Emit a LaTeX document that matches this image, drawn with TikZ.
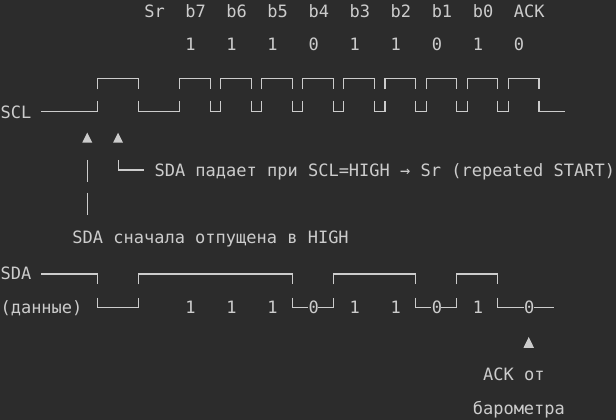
\documentclass[tikz,border=0pt]{standalone}
\usepackage{fontspec}
\setmonofont{DejaVu Sans Mono}
\definecolor{bgc}{RGB}{44,44,44}
\definecolor{fgc}{RGB}{204,204,204}

\begin{document}
\begin{tikzpicture}[x=10.267pt,y=-1pt,line width=1.1pt,
  txt/.style={anchor=base west,inner sep=0pt,text=fgc,font=\ttfamily\fontsize{17}{20}\selectfont}]
\fill[bgc] (0,0) rectangle (60,420);
\useasboundingbox (0,0) rectangle (60,420);

\node[txt] (sr) at (14,17.3) {Sr};
\node[txt] (b7) at (18,17.3) {b7};
\node[txt] (b6) at (22,17.3) {b6};
\node[txt] (b5) at (26,17.3) {b5};
\node[txt] (b4) at (30,17.3) {b4};
\node[txt] (b3) at (34,17.3) {b3};
\node[txt] (b2) at (38,17.3) {b2};
\node[txt] (b1) at (42,17.3) {b1};
\node[txt] (b0) at (46,17.3) {b0};
\node[txt] (ack) at (50,17.3) {ACK};

\node[txt] (v7) at (18,50.7) {1};
\node[txt] (v6) at (22,50.7) {1};
\node[txt] (v5) at (26,50.7) {1};
\node[txt] (v4) at (30,50.7) {0};
\node[txt] (v3) at (34,50.7) {1};
\node[txt] (v2) at (38,50.7) {1};
\node[txt] (v1) at (42,50.7) {0};
\node[txt] (v0) at (46,50.7) {1};
\node[txt] (va) at (50,50.7) {0};

\node[txt] (scl) at (0,118.3) {SCL};
\draw[fgc] (9.5,89.3) |- (13.5,78.3) -- (13.5,89.3)
  (17.5,89.3) |- (20.5,78.3) -- (20.5,89.3)
  (21.5,89.3) |- (24.5,78.3) -- (24.5,89.3)
  (25.5,89.3) |- (28.5,78.3) -- (28.5,89.3)
  (29.5,89.3) |- (32.5,78.3) -- (32.5,89.3)
  (33.5,89.3) |- (36.5,78.3) -- (36.5,89.3)
  (37.5,89.3) |- (40.5,78.3) -- (40.5,89.3)
  (41.5,89.3) |- (44.5,78.3) -- (44.5,89.3)
  (45.5,89.3) |- (48.5,78.3) -- (48.5,89.3)
  (49.5,89.3) |- (52.5,78.3) -- (52.5,89.3);
\draw[fgc] (4,111.5) -| (9.5,100.7)
  (13.5,100.7) |- (17.5,111.5) -- (17.5,100.7)
  (20.5,100.7) |- (21.5,111.5) -- (21.5,100.7)
  (24.5,100.7) |- (25.5,111.5) -- (25.5,100.7)
  (28.5,100.7) |- (29.5,111.5) -- (29.5,100.7)
  (32.5,100.7) |- (33.5,111.5) -- (33.5,100.7)
  (36.5,100.7) |- (37.5,111.5) -- (37.5,100.7)
  (40.5,100.7) |- (41.5,111.5) -- (41.5,100.7)
  (44.5,100.7) |- (45.5,111.5) -- (45.5,100.7)
  (48.5,100.7) |- (49.5,111.5) -- (49.5,100.7)
  (52.5,100.7) |- (55,111.5);

\coordinate (up1) at (8.5,132.7);
\coordinate (up2) at (11.5,132.7);
\fill[fgc] (up1) -- ++(0.487,10) -- ++(-0.974,0) -- cycle;
\fill[fgc] (up2) -- ++(0.487,10) -- ++(-0.974,0) -- cycle;
\draw[fgc] (8.5,160) -- (8.5,181.7);
\draw[fgc] (8.5,192.7) -- (8.5,215);
\draw[fgc] (11.5,160) |- (14,170);
\node[txt] (fall) at (15,176.7) {SDA падает при SCL=HIGH → Sr (repeated START)};
\node[txt] (high) at (7,244) {SDA сначала отпущена в HIGH};

\node[txt] (sda) at (0,279.3) {SDA};
\node[txt] (dat) at (0,314) {(данные)};
\draw[fgc] (4,274) -| (9.5,284.3)
  (13.5,284.3) |- (28.5,274) -- (28.5,284.3)
  (32.5,284.3) |- (40.5,274) -- (40.5,284.3)
  (44.5,284.3) |- (48.5,274) -- (48.5,284.3);
\draw[fgc] (9.5,297.7) |- (13.5,307.3) -- (13.5,297.7)
  (28.5,297.7) |- (30,307.3) (31,307.3) -| (32.5,297.7)
  (40.5,297.7) |- (42,307.3) (43,307.3) -| (44.5,297.7)
  (48.5,297.7) |- (51,307.3) (52,307.3) -- (54,307.3);
\node[txt] (d7) at (18,314) {1};
\node[txt] (d6) at (22,314) {1};
\node[txt] (d5) at (26,314) {1};
\node[txt] (d4) at (30,314) {0};
\node[txt] (d3) at (34,314) {1};
\node[txt] (d2) at (38,314) {1};
\node[txt] (d1) at (42,314) {0};
\node[txt] (d0) at (46,314) {1};
\node[txt] (da) at (51,314) {0};

\coordinate (up3) at (51.5,337);
\fill[fgc] (up3) -- ++(0.52,11) -- ++(-1.04,0) -- cycle;
\node[txt] (ackfrom) at (47,381) {ACK от};
\node[txt] (baro) at (46,415) {барометра};
\end{tikzpicture}
\end{document}
